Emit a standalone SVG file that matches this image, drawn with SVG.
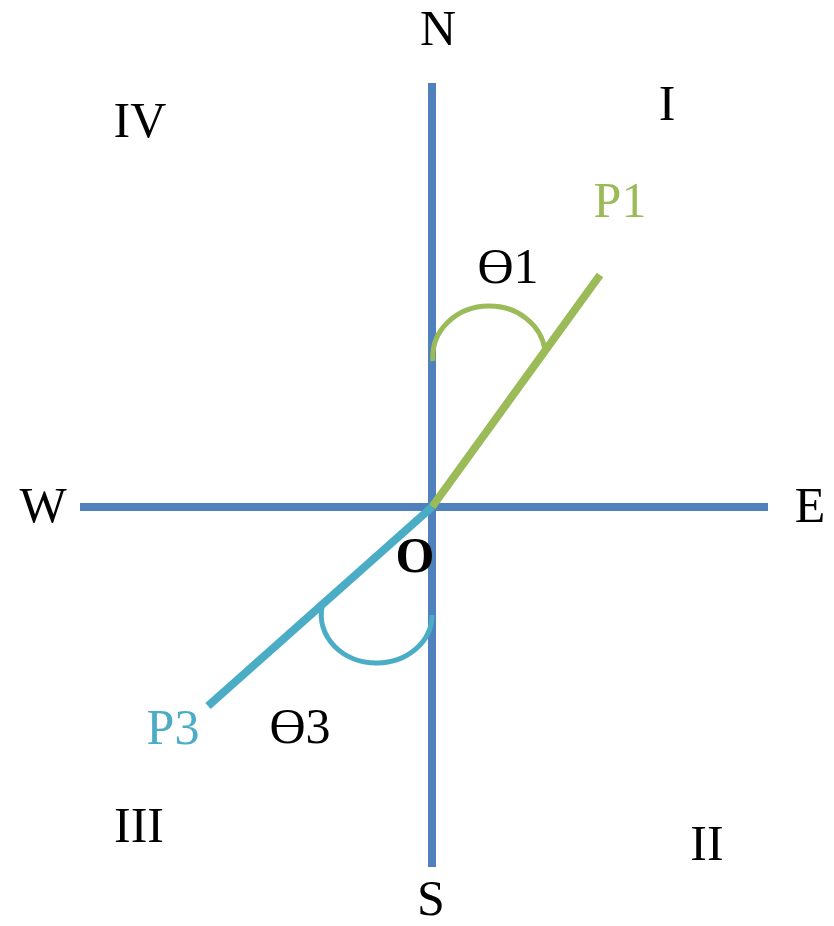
<svg xmlns="http://www.w3.org/2000/svg" width="834" height="926" viewBox="0 0 834 926">
<style>
text{font-family:"Liberation Serif","Times New Roman",serif;font-size:50px;fill:#000;text-anchor:middle}
.axis{stroke:#4F81BD;stroke-width:8;fill:none}
.g{stroke:#9BBB59;fill:none}
.t{stroke:#4BACC6;fill:none}
.ray{stroke-width:8}
.arc{stroke-width:5}
</style>
<rect width="834" height="926" fill="#fff"/>
<g id="connectors">
<line class="axis" x1="432" y1="83" x2="432" y2="867"/>
<line class="axis" x1="80" y1="507" x2="768" y2="507"/>
<line class="g ray" x1="432" y1="507" x2="600" y2="275"/>
<line class="t ray" x1="432" y1="507" x2="208" y2="706"/>
<path class="g arc" d="M433,361 A56,51 0 0 1 489,306 A56,51 0 0 1 545,350"/>
<path class="t arc" d="M322,607 A55,48 0 0 0 377,663 A55,48 0 0 0 432,615"/>
</g>
<g id="N"><text x="438" y="45">N</text></g>
<g id="S"><text x="431" y="915">S</text></g>
<g id="W"><text x="43" y="522">W</text></g>
<g id="E"><text x="810" y="522">E</text></g>
<g id="I"><text x="667" y="120">I</text></g>
<g id="II"><text x="707" y="860">II</text></g>
<g id="III"><text x="139" y="842">III</text></g>
<g id="IV"><text x="140" y="137">IV</text></g>
<g id="O"><text x="415" y="572" font-weight="bold">O</text></g>
<g id="P1"><text x="620" y="217" style="fill:#9BBB59">P1</text></g>
<g id="P3"><text x="173" y="744" style="fill:#4BACC6">P3</text></g>
<g id="theta1"><text x="508" y="283">Ө1</text></g>
<g id="theta3"><text x="300" y="743">Ө3</text></g>
</svg>
